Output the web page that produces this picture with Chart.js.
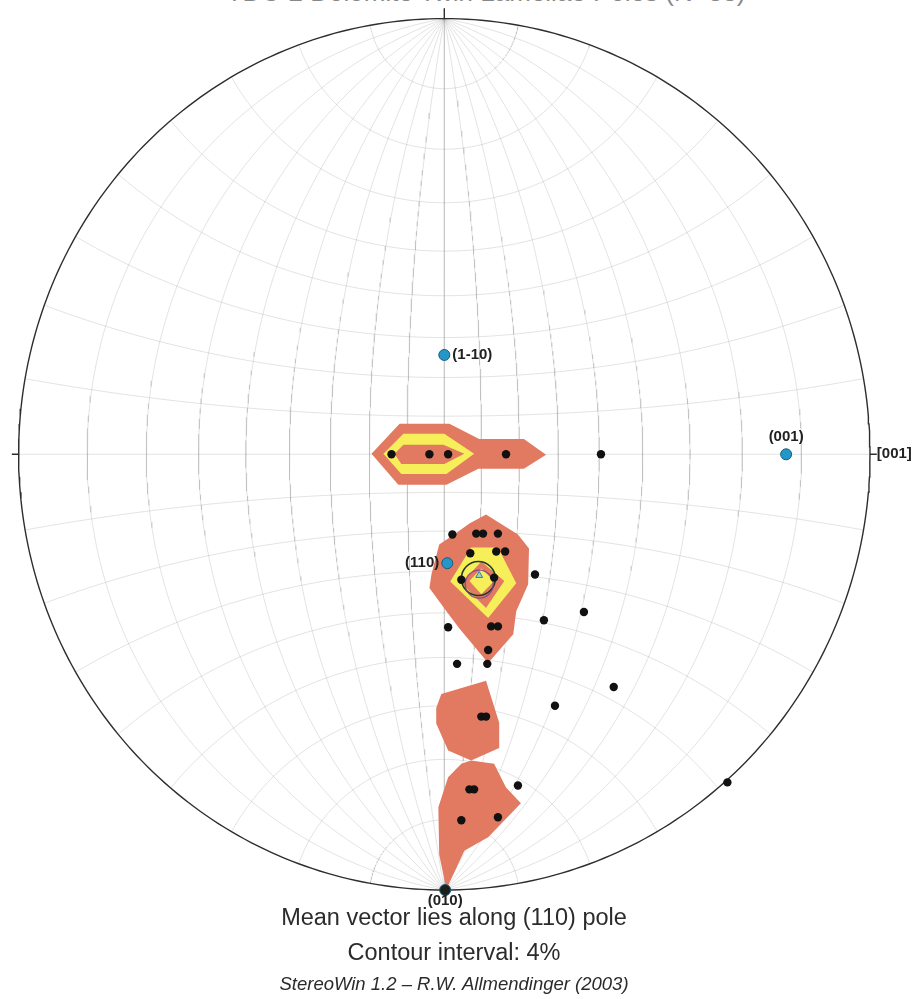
<!DOCTYPE html>
<html>
<head>
<meta charset="utf-8">
<title>TDC-2 Dolomite stereonet</title>
<script src="https://cdn.jsdelivr.net/npm/chart.js@4.4.1/dist/chart.umd.min.js"></script>
<style>
  html, body { margin: 0; padding: 0; background: #fff; }
  #wrap { position: relative; width: 919px; height: 999px; overflow: hidden; background: #fff; }
  #net { position: absolute; left: 0; top: 0; }
  .txt { position: absolute; white-space: nowrap; line-height: 1; transform: translateX(-50%);
         font-family: "Liberation Sans", Arial, sans-serif; color: #2b2b2b; }
</style>
</head>
<body>
<div id="wrap">
  <div class="txt" style="left:486px; top:-21px; font-size:26px; color:#888;">TDC-2 Dolomite Twin Lamellae Poles (N=33)</div>
  <canvas id="net" width="919" height="999"></canvas>
  <div class="txt" style="left:454px; top:906px; font-size:23.5px;">Mean vector lies along (110) pole</div>
  <div class="txt" style="left:454px; top:941px; font-size:23.5px;">Contour interval: 4%</div>
  <div class="txt" style="left:454px; top:975px; font-size:18.5px; font-style:italic;">StereoWin 1.2 – R.W. Allmendinger (2003)</div>
</div>
<script>
// Poles to twin lamellae, in stereographic net coordinates (primitive circle radius = 1)
const lamellaePoles = [
  [-0.124, 0.000], [-0.035, 0.000], [0.009, 0.000], [0.145, 0.000], [0.368, 0.000],
  [0.019, -0.184], [0.075, -0.182], [0.091, -0.182], [0.126, -0.182],
  [0.061, -0.227], [0.122, -0.223], [0.143, -0.223],
  [0.040, -0.288], [0.117, -0.283], [0.213, -0.276],
  [0.009, -0.397], [0.110, -0.395], [0.126, -0.395], [0.234, -0.381], [0.328, -0.362],
  [0.103, -0.449], [0.030, -0.481], [0.101, -0.481],
  [0.398, -0.534], [0.260, -0.577], [0.087, -0.602], [0.098, -0.602],
  [0.059, -0.769], [0.070, -0.769], [0.173, -0.760],
  [0.040, -0.840], [0.126, -0.833], [0.665, -0.753]
];

// Crystallographic reference poles
const poleNames = ['(1-10)', '(001)', '(110)', '(010)'];
const poleX = [0.000, 0.803, 0.007, 0.002];
const poleY = [0.228, 0.000, -0.250, -1.000];

// Mean vector and its confidence cones
const meanVector = [0.082, -0.278];
const meanCone = [0.080, -0.285];
const meanCone2 = [0.082, -0.298];

// Density contours (4% interval)
const c4Equator = [[-0.171, 0.001], [-0.105, 0.070], [0.012, 0.070], [0.082, 0.035], [0.187, 0.035],
  [0.239, -0.001], [0.187, -0.033], [0.080, -0.033], [0.005, -0.070], [-0.108, -0.070]];
const c4Centre = [[0.098, -0.138], [0.173, -0.184], [0.199, -0.216], [0.197, -0.298], [0.169, -0.360],
  [0.162, -0.413], [0.122, -0.458], [0.103, -0.479], [0.035, -0.399], [0.005, -0.360],
  [-0.035, -0.307], [-0.030, -0.275], [-0.012, -0.207], [0.023, -0.184], [0.059, -0.159]];
const c4LowerA = [[-0.007, -0.550], [0.098, -0.520], [0.129, -0.616], [0.129, -0.674],
  [0.063, -0.703], [0.009, -0.680], [-0.019, -0.618], [-0.019, -0.582]];
const c4LowerB = [[0.063, -0.703], [0.117, -0.710], [0.145, -0.765], [0.180, -0.801], [0.103, -0.879],
  [0.047, -0.910], [0.005, -0.998], [-0.012, -0.919], [-0.014, -0.810], [0.009, -0.741], [0.040, -0.710]];
const c8Equator = [[-0.143, 0.001], [-0.096, 0.047], [0.000, 0.047], [0.070, 0.001], [0.005, -0.045], [-0.101, -0.045]];
const c8Centre = [[0.063, -0.214], [0.126, -0.214], [0.169, -0.296], [0.103, -0.376], [0.014, -0.292]];
const c12Equator = [[-0.117, 0.001], [-0.096, 0.022], [-0.002, 0.022], [0.047, 0.001], [0.000, -0.022], [-0.101, -0.022]];
const c12Centre = [[0.087, -0.246], [0.141, -0.291], [0.098, -0.353], [0.040, -0.296]];
const c16Centre = [[0.087, -0.262], [0.117, -0.291], [0.087, -0.321], [0.059, -0.291]];

const SALMON = '#e27a62';
const YELLOW = '#f7ef5a';

const toPts = arr => arr.map(p => ({ x: p[0], y: p[1] }));
const GAP = { x: null, y: null };

// Wulff (equal-angle) net, lower hemisphere, 10 degree spacing
function project(e, n, d) { return { x: e / (1 + d), y: n / (1 + d) }; }
const netLines = [];
const rad = Math.PI / 180;
for (let k = 1; k < 18; k++) {           // great circles through N and S
  const phi = k * 10 * rad;
  for (let i = 0; i <= 180; i++) {
    const t = i * rad;
    netLines.push(project(Math.sin(t) * Math.cos(phi), Math.cos(t), Math.sin(t) * Math.sin(phi)));
  }
  netLines.push(GAP);
}
for (let k = 1; k < 18; k++) {           // small circles about the N-S axis
  const a = k * 10 * rad;
  for (let i = 0; i <= 180; i++) {
    const th = i * rad;
    netLines.push(project(Math.sin(a) * Math.cos(th), Math.cos(a), Math.sin(a) * Math.sin(th)));
  }
  netLines.push(GAP);
}

// Primitive circle with cardinal ticks
const primitive = [];
for (let i = 0; i <= 360; i++) primitive.push({ x: Math.cos(i * rad), y: Math.sin(i * rad) });
primitive.push(GAP, { x: 0, y: 1 }, { x: 0, y: 1.024 });
primitive.push(GAP, { x: 1, y: 0 }, { x: 1.016, y: 0 });
primitive.push(GAP, { x: -1, y: 0 }, { x: -1.016, y: 0 });

function polygon(pts, color, order) {
  return {
    type: 'line', data: toPts(pts), fill: 'shape', backgroundColor: color,
    borderColor: 'transparent', borderWidth: 0, pointRadius: 0, tension: 0, order: order
  };
}

// Text beside the reference poles
const labelPlugin = {
  id: 'poleLabels',
  afterDatasetsDraw(chart) {
    const ctx = chart.ctx;
    const meta = chart.getDatasetMeta(chart.data.datasets.findIndex(d => d.label === 'poles'));
    const place = [
      { dx: 8, dy: 0, align: 'left', base: 'middle' },
      { dx: 0, dy: -10, align: 'center', base: 'bottom' },
      { dx: -8, dy: 0, align: 'right', base: 'middle' },
      { dx: 0, dy: 3, align: 'center', base: 'top' }
    ];
    ctx.save();
    ctx.fillStyle = '#222';
    ctx.font = 'bold 15px "Liberation Sans", Arial, sans-serif';
    meta.data.forEach((pt, i) => {
      const p = place[i];
      ctx.textAlign = p.align;
      ctx.textBaseline = p.base;
      ctx.fillText(poleNames[i], pt.x + p.dx, pt.y + p.dy);
    });
    // crystal axis at the east end of the primitive
    const xs = chart.scales.x, ys = chart.scales.y;
    ctx.textAlign = 'left';
    ctx.textBaseline = 'middle';
    ctx.fillText('[001]', xs.getPixelForValue(1.016), ys.getPixelForValue(0));
    ctx.restore();
  }
};

new Chart(document.getElementById('net'), {
  type: 'scatter',
  data: {
    datasets: [
      { type: 'line', label: 'net', data: netLines, borderColor: 'rgba(140,140,140,0.3)', borderWidth: 0.8,
        pointRadius: 0, fill: false, tension: 0, spanGaps: false, clip: false, order: 100 },
      polygon(c4Equator, SALMON, 90),
      polygon(c4Centre, SALMON, 90),
      polygon(c4LowerA, SALMON, 90),
      polygon(c4LowerB, SALMON, 90),
      polygon(c8Equator, YELLOW, 80),
      polygon(c8Centre, YELLOW, 80),
      polygon(c12Equator, SALMON, 70),
      polygon(c12Centre, SALMON, 70),
      polygon(c16Centre, YELLOW, 60),
      { type: 'line', label: 'primitive', data: primitive, borderColor: '#2e2e2e', borderWidth: 1.4,
        pointRadius: 0, fill: false, tension: 0, spanGaps: false, clip: false, order: 50 },
      { label: 'cone', data: [{ x: meanCone[0], y: meanCone[1] }], pointStyle: 'circle', pointRadius: 17,
        backgroundColor: 'transparent', borderColor: '#1f3a28', borderWidth: 1.6, clip: false, order: 40 },
      { label: 'cone2', data: [{ x: meanCone2[0], y: meanCone2[1] }], pointStyle: 'circle', pointRadius: 14,
        backgroundColor: 'transparent', borderColor: 'rgba(120,60,140,0.8)', borderWidth: 1.3, clip: false, order: 39 },
      { label: 'mean', data: [{ x: meanVector[0], y: meanVector[1] }], pointStyle: 'triangle', pointRadius: 4,
        backgroundColor: 'rgba(120,190,230,0.6)', borderColor: '#2a7fb8', borderWidth: 1, clip: false, order: 38 },
      { label: 'lamellae', data: toPts(lamellaePoles), pointRadius: 4.2, backgroundColor: '#111',
        borderWidth: 0, clip: false, order: 30 },
      { label: 'poles', data: poleX.map((x, i) => ({ x: x, y: poleY[i] })), pointRadius: 5.5,
        backgroundColor: ['#2596c8', '#2596c8', '#2596c8', '#1a1f1a'], borderColor: '#1b5a7a',
        borderWidth: 1, clip: false, order: 20 }
    ]
  },
  options: {
    responsive: false,
    animation: false,
    events: [],
    layout: { padding: { left: 16, right: 49, top: 15, bottom: 109 } },
    scales: {
      x: { type: 'linear', min: -1, max: 1, display: false },
      y: { type: 'linear', min: -1, max: 1, display: false }
    },
    plugins: { legend: { display: false }, tooltip: { enabled: false }, title: { display: false } }
  },
  plugins: [labelPlugin]
});
</script>
</body>
</html>
